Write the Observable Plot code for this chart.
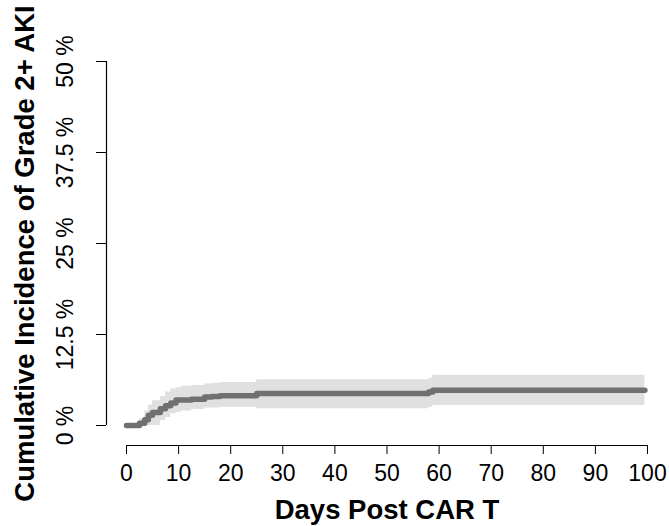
<!DOCTYPE html>
<html>
<head>
<meta charset="utf-8">
<script src="https://cdn.jsdelivr.net/npm/d3@7"></script>
<script src="https://cdn.jsdelivr.net/npm/@observablehq/plot@0.6"></script>
<style>
  html, body { margin: 0; padding: 0; background: white; }
  svg { display: block; }
</style>
</head>
<body>
<div id="chart"></div>
<script>
// Step times (days) and cumulative incidence (%) with confidence band
const days  = [0,   2.5, 3.5, 4.2, 5,   6.5, 7.5, 8.5, 9.5, 10.5, 12.5, 15,  16.4, 18,  25,  58,  58.8, 99.5];
const est   = [0,   0.3, 0.8, 1.4, 1.8, 2.3, 2.7, 3.1, 3.5, 3.5,  3.6,  3.9, 4.0,  4.1, 4.4, 4.6, 4.85, 4.85];
const lower = [0,   0,   0,   0,   0,   0.7, 1.1, 1.6, 1.8, 2.0,  2.2,  2.4, 2.4,  2.5, 2.3, 2.5, 2.75, 2.75];
const upper = [0,   0.9, 2.0, 2.8, 3.4, 4.0, 4.6, 5.0, 5.2, 5.4,  5.5,  5.7, 5.8,  5.9, 6.3, 6.5, 6.9,  6.9];

const xTicks = [0, 10, 20, 30, 40, 50, 60, 70, 80, 90, 100];
const yTicks = [0, 12.5, 25, 37.5, 50];
const yTickLabels = ["0 %", "12.5 %", "25 %", "37.5 %", "50 %"];
const xLabel = "Days Post CAR T";
const yLabel = "Cumulative Incidence of Grade 2+ AKI";

const data = days.map((d, i) => ({day: d, est: est[i], lower: lower[i], upper: upper[i]}));

const chart = Plot.plot({
  width: 669,
  height: 526,
  marginLeft: 126,
  marginRight: 22,
  marginTop: 61,
  marginBottom: 101,
  style: {fontFamily: "'Liberation Sans', Arial, sans-serif", background: "white", color: "black", overflow: "visible"},
  x: {domain: [0, 100]},
  y: {domain: [0, 50]},
  marks: [
    Plot.areaY(data, {x: "day", y1: "lower", y2: "upper", curve: "step-after", fill: "#e0e0e0"}),
    Plot.line(data, {x: "day", y: "est", curve: "step-after", stroke: "#707070", strokeWidth: 5.5, strokeLinecap: "round"}),
    Plot.axisX({ticks: xTicks, tickSize: 9, tickPadding: 10, dy: 20, fontSize: 23, label: null, stroke: "black"}),
    Plot.ruleY([0], {x1: 0, x2: 100, dy: 20, stroke: "black", strokeWidth: 1.2}),
    Plot.axisY({ticks: yTicks, tickFormat: d => yTickLabels[yTicks.indexOf(d)], tickSize: 10, tickPadding: 24, dx: -20, tickRotate: -90, fontSize: 23, label: null, stroke: "black"}),
    Plot.ruleX([0], {y1: 0, y2: 50, dx: -20, stroke: "black", strokeWidth: 1.2}),
    Plot.text([xLabel], {frameAnchor: "bottom", dy: 85, fontSize: 27.5, fontWeight: "bold", lineAnchor: "middle", textAnchor: "middle"}),
    Plot.text([yLabel], {frameAnchor: "left", dx: -101, dy: 10, rotate: -90, fontSize: 27.5, fontWeight: "bold", lineAnchor: "middle", textAnchor: "middle"})
  ]
});
document.getElementById("chart").appendChild(chart);
</script>
</body>
</html>
